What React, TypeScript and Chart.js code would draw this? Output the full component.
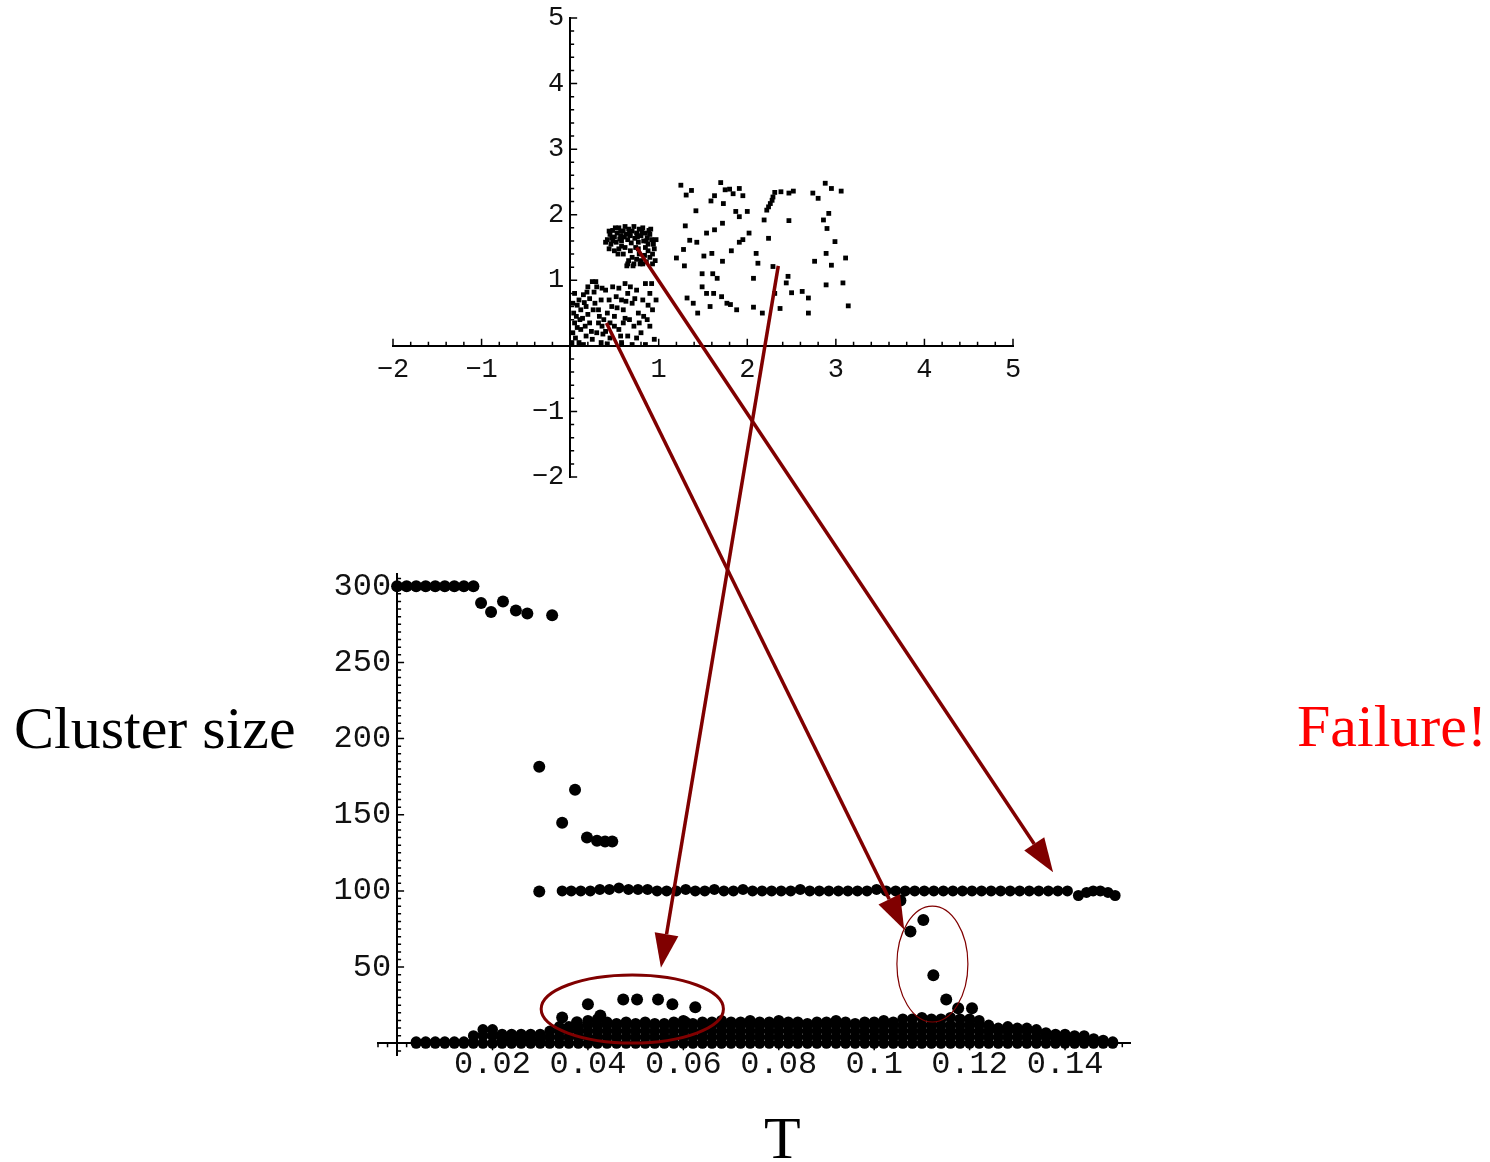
import React, { useEffect, useRef } from "react";
import { Chart, registerables } from "chart.js";
Chart.register(...registerables);

type P = [number, number];

// ---------- upper plot: 2-D point set ----------
const lowerCluster: P[] = [
  [0.02, 0.05], [0.03, 0.2], [0.05, 0.35], [0.04, 0.5], [0.08, 0.62], [0.06, 0.12], [0.1, 0.05], [0.12, 0.25],
  [0.14, 0.42], [0.1, 0.7], [0.15, 0.78], [0.18, 0.6], [0.2, 0.9], [0.22, 0.72], [0.25, 0.98], [0.27, 0.82],
  [0.3, 0.9], [0.28, 0.65], [0.32, 0.55], [0.35, 0.7], [0.33, 0.45], [0.38, 0.4], [0.36, 0.3], [0.4, 0.22],
  [0.42, 0.5], [0.45, 0.35], [0.47, 0.6], [0.5, 0.45], [0.52, 0.75], [0.55, 0.88], [0.58, 0.7], [0.6, 0.55],
  [0.62, 0.95], [0.65, 0.8], [0.67, 0.4], [0.7, 0.65], [0.72, 0.3], [0.75, 0.85], [0.77, 0.5], [0.8, 0.2],
  [0.82, 0.7], [0.85, 0.95], [0.87, 0.4], [0.9, 0.8], [0.93, 0.55], [0.95, 0.1], [0.18, 0.15], [0.22, 0.35],
  [0.25, 0.1], [0.3, 0.2], [0.15, 0.02], [0.35, 0.05], [0.45, 0.12], [0.55, 0.25], [0.58, 0.05], [0.65, 0.15],
  [0.7, 0.02], [0.75, 0.12], [0.85, 0.02], [0.9, 0.3], [0.08, 0.28], [0.12, 0.55], [0.2, 0.48], [0.4, 0.85],
  [0.48, 0.9], [0.6, 0.35], [0.68, 0.9], [0.92, 0.95], [0.05, 0.8], [0.03, 0.65], [0.26, 0.55], [0.44, 0.7],
  [0.53, 0.58], [0.63, 0.68], [0.78, 0.35], [0.88, 0.62], [0.11, 0.4], [0.17, 0.3], [0.37, 0.18], [0.5, 0.3],
  [0.42, 0.03], [0.62, 0.42], [0.73, 0.72], [0.97, 0.7], [0.83, 0.45], [0.57, 0.15], [0.24, 0.22], [0.32, 0.35],
  [0.19, 0.82], [0.29, 0.98], [0.36, 0.88], [0.16, 0.66], [0.07, 0.45],
];

const denseCluster: P[] = [
  [0.42, 1.62], [0.45, 1.7], [0.48, 1.76], [0.5, 1.66], [0.52, 1.58], [0.46, 1.55], [0.44, 1.48], [0.5, 1.45],
  [0.53, 1.72], [0.55, 1.8], [0.57, 1.68], [0.58, 1.6], [0.6, 1.75], [0.62, 1.82], [0.63, 1.7], [0.65, 1.62],
  [0.66, 1.78], [0.68, 1.68], [0.7, 1.75], [0.72, 1.82], [0.73, 1.64], [0.75, 1.72], [0.77, 1.58], [0.78, 1.78],
  [0.8, 1.68], [0.82, 1.8], [0.83, 1.6], [0.85, 1.72], [0.87, 1.65], [0.88, 1.55], [0.9, 1.7], [0.92, 1.62],
  [0.94, 1.55], [0.95, 1.48], [0.93, 1.4], [0.9, 1.35], [0.88, 1.45], [0.85, 1.5], [0.84, 1.38], [0.8, 1.3],
  [0.82, 1.25], [0.78, 1.4], [0.75, 1.32], [0.72, 1.25], [0.7, 1.35], [0.68, 1.45], [0.66, 1.3], [0.64, 1.22],
  [0.62, 1.5], [0.6, 1.4], [0.58, 1.52], [0.55, 1.48], [0.54, 1.4], [0.48, 1.6], [0.4, 1.58], [0.97, 1.62],
  [0.96, 1.3], [0.86, 1.28], [0.74, 1.5], [0.57, 1.75], [0.51, 1.8], [0.69, 1.57], [0.77, 1.48], [0.91, 1.78],
  [0.44, 1.75], [0.65, 1.25], [0.93, 1.25], [0.79, 1.25], [0.71, 1.22],
  [0.47, 1.65], [0.56, 1.63], [0.61, 1.66], [0.67, 1.72], [0.76, 1.66], [0.81, 1.74], [0.86, 1.6], [0.89, 1.76],
];

const scatterCluster: P[] = [
  [1.25, 2.45], [1.31, 2.3], [1.37, 2.37], [1.42, 2.06], [1.3, 1.83], [1.35, 1.61], [1.28, 1.47], [1.2, 1.34],
  [1.29, 1.22], [1.43, 1.58], [1.51, 1.37], [1.54, 1.72], [1.59, 2.21], [1.63, 2.29], [1.7, 2.49], [1.73, 2.17],
  [1.8, 2.39], [1.75, 2.38], [1.91, 2.4], [1.95, 2.29], [1.87, 2.05], [1.91, 1.97], [2.0, 2.05], [1.72, 1.87],
  [1.63, 1.77], [1.6, 1.41], [1.72, 1.29], [1.82, 1.45], [1.91, 1.58], [1.95, 1.62], [2.02, 1.72], [2.1, 1.41],
  [2.12, 1.26], [2.07, 1.03], [1.49, 1.1], [1.61, 1.1], [1.49, 0.9], [1.54, 0.8], [1.62, 0.8], [1.32, 0.73],
  [1.39, 0.65], [1.44, 0.5], [1.71, 0.75], [1.77, 0.65], [1.81, 0.63], [1.88, 0.55], [2.07, 0.59], [2.17, 0.5],
  [2.24, 1.64], [2.22, 2.07], [2.19, 1.92], [2.26, 2.17], [2.29, 2.27], [2.31, 2.34], [2.38, 2.35], [2.47, 2.33],
  [2.47, 1.91], [2.29, 1.21], [2.46, 1.06], [2.44, 0.96], [2.31, 0.8], [2.5, 0.81], [2.62, 0.83], [2.69, 0.73],
  [2.37, 0.57], [2.69, 0.5], [2.74, 2.33], [2.8, 2.25], [2.88, 2.48], [2.95, 2.4], [3.06, 2.36], [2.92, 2.02],
  [2.86, 1.92], [2.9, 1.79], [2.99, 1.59], [2.89, 1.41], [3.11, 1.34], [2.95, 1.23], [2.76, 1.29], [2.89, 0.93],
  [3.08, 0.96], [3.14, 0.61], [2.28, 2.22], [2.24, 2.12], [1.84, 2.32], [1.66, 1.03], [1.58, 0.6], [2.52, 2.36],
];

const topXTicks = [-2, -1, 1, 2, 3, 4, 5];
const topXLabels = ["\u22122", "\u22121", "1", "2", "3", "4", "5"];
const topYTicks = [-2, -1, 1, 2, 3, 4, 5];
const topYLabels = ["\u22122", "\u22121", "1", "2", "3", "4", "5"];

// ---------- lower plot: cluster size vs T ----------
const bottomXTicks = [0.02, 0.04, 0.06, 0.08, 0.1, 0.12, 0.14];
const bottomXLabels = ["0.02", "0.04", "0.06", "0.08", "0.1", "0.12", "0.14"];
const bottomYTicks = [50, 100, 150, 200, 250, 300];
const bottomYLabels = ["50", "100", "150", "200", "250", "300"];

const plateau: P[] = [
  [0, 300], [0.002, 300], [0.004, 300], [0.006, 300], [0.008, 300], [0.01, 300], [0.012, 300], [0.014, 300],
  [0.016, 300], [0.0176, 289], [0.0197, 283], [0.0222, 290], [0.0249, 284], [0.0273, 282], [0.0325, 281],
];

const transition: P[] = [
  [0.0298, 181.5], [0.0373, 166.4], [0.0346, 144.8], [0.0398, 135], [0.0419, 133], [0.0436, 132.4],
  [0.0451, 132.4], [0.0298, 99.6],
];

const hundredLine: P[] = [
  [0.0346, 100], [0.0365, 100], [0.0385, 100], [0.0405, 100], [0.0425, 101], [0.0445, 101], [0.0465, 102],
  [0.0485, 101], [0.0505, 101], [0.0525, 101], [0.0545, 100], [0.0565, 100], [0.0585, 100], [0.0605, 101],
  [0.0625, 100], [0.0645, 100], [0.0665, 101], [0.0685, 100], [0.0705, 100], [0.0725, 101], [0.0745, 100],
  [0.0765, 100], [0.0785, 100], [0.0805, 100], [0.0825, 100], [0.0845, 101], [0.0865, 100], [0.0885, 100],
  [0.0905, 100], [0.0925, 100], [0.0945, 100], [0.0965, 100], [0.0985, 100], [0.1005, 101], [0.1025, 100],
  [0.1045, 100], [0.1065, 100], [0.1085, 100], [0.1105, 100], [0.1125, 100], [0.1145, 100], [0.1165, 100],
  [0.1185, 100], [0.1205, 100], [0.1225, 100], [0.1245, 100], [0.1265, 100], [0.1285, 100], [0.1305, 100],
  [0.1325, 100], [0.1345, 100], [0.1365, 100], [0.1385, 100], [0.1405, 100], [0.1428, 97], [0.1445, 99],
  [0.1459, 100], [0.1474, 100], [0.149, 99], [0.1505, 97],
];

// each row: T, then the cluster sizes found at that T
const lowBandRows: number[][] = [
  [0.004, 0, 1], [0.006, 0, 1], [0.008, 0, 1], [0.01, 0, 1], [0.012, 0, 1], [0.014, 0, 1],
  [0.016, 0, 1, 5], [0.018, 0, 5, 9], [0.02, 0, 5, 9],
  [0.022, 0, 3, 6], [0.024, 0, 3, 6], [0.026, 0, 3, 6], [0.028, 0, 3, 6], [0.03, 0, 3, 6],
  [0.032, 0, 4, 8], [0.034, 0, 4, 8, 11], [0.036, 0, 4, 8, 11], [0.038, 0, 4, 8, 11],
  [0.04, 0, 4, 8, 12, 15], [0.042, 0, 4, 8, 12, 16], [0.044, 0, 4, 8, 12, 14], [0.046, 0, 4, 8, 12, 13],
  [0.048, 0, 4, 8, 12, 14], [0.05, 0, 4, 8, 12, 13], [0.052, 0, 4, 8, 12, 14], [0.054, 0, 4, 8, 12, 13],
  [0.056, 0, 4, 8, 12, 13], [0.058, 0, 4, 8, 12, 14], [0.06, 0, 4, 8, 12, 15], [0.062, 0, 4, 8, 12, 13],
  [0.064, 0, 4, 8, 12, 14], [0.066, 0, 4, 8, 12, 14], [0.068, 0, 4, 8, 12, 15], [0.07, 0, 4, 8, 12, 14],
  [0.072, 0, 4, 8, 12, 14], [0.074, 0, 4, 8, 12, 15], [0.076, 0, 4, 8, 12, 14], [0.078, 0, 4, 8, 12, 14],
  [0.08, 0, 4, 8, 12, 15], [0.082, 0, 4, 8, 12, 14], [0.084, 0, 4, 8, 12, 14], [0.086, 0, 4, 8, 12, 13],
  [0.088, 0, 4, 8, 12, 14], [0.09, 0, 4, 8, 12, 14], [0.092, 0, 4, 8, 12, 15], [0.094, 0, 4, 8, 12, 14],
  [0.096, 0, 4, 8, 12, 13], [0.098, 0, 4, 8, 12, 14], [0.1, 0, 4, 8, 12, 14], [0.102, 0, 4, 8, 12, 15],
  [0.104, 0, 4, 8, 12, 14], [0.106, 0, 4, 8, 12, 16], [0.108, 0, 4, 8, 12, 16], [0.11, 0, 4, 8, 12, 17],
  [0.112, 0, 4, 8, 12, 16], [0.114, 0, 4, 8, 12, 16], [0.116, 0, 4, 8, 12, 17], [0.118, 0, 4, 8, 12, 16],
  [0.12, 0, 4, 8, 12, 16], [0.122, 0, 4, 8, 12, 15], [0.124, 0, 4, 8, 12], [0.126, 0, 4, 8, 10],
  [0.128, 0, 4, 8, 11], [0.13, 0, 4, 8, 10], [0.132, 0, 4, 8, 10], [0.134, 0, 4, 8, 9], [0.136, 0, 4, 7],
  [0.138, 0, 3, 6], [0.14, 0, 3, 6], [0.142, 0, 3, 5], [0.144, 0, 3, 5], [0.146, 0, 2, 3], [0.148, 0, 2],
  [0.15, 0, 1],
];

const encircledPoints: P[] = [
  [0.04, 25.6], [0.0474, 28.8], [0.0503, 28.8], [0.0547, 28.8], [0.0577, 25.6], [0.0625, 23.6],
  [0.0346, 17], [0.0377, 13.8], [0.0426, 18.3], [0.0604, 13.8],
];

const failurePoints: P[] = [
  [0.1055, 93.7], [0.1076, 73.4], [0.1103, 81], [0.1124, 44.6], [0.1151, 28.8], [0.1176, 23], [0.1205, 23],
];

// annotations: arrows from upper-plot coordinates to lower-plot coordinates
const arrows: { from: P; to: P }[] = [
  { from: [0.41, 0.35], to: [0.1063, 74.5] },
  { from: [0.75, 1.5], to: [0.1375, 112.3] },
  { from: [2.35, 1.22], to: [0.0553, 49.6] },
];
// ellipses in lower-plot coordinates: centre T, centre size, half-width in T, half-height in size
const ellipses = [
  { t: 0.0493, s: 22.5, rt: 0.0191, rs: 22.3, width: 3 },
  { t: 0.1122, s: 52, rt: 0.00744, rs: 38, width: 1.2 },
];

const RED = "#800000";
const TOP_BOX = { left: 360, top: 0, width: 680, height: 510 };
const BOT_BOX = { left: 300, top: 540, width: 860, height: 580 };
const PAGE_W = 1490;
const PAGE_H = 1162;

function steps(a: number, b: number, s: number): number[] {
  const out: number[] = [];
  const n = Math.round((b - a) / s);
  for (let i = 0; i <= n; i++) out.push(+(a + i * s).toFixed(6));
  return out;
}

function axisDecor(o: {
  xMinor: number[]; xMajor: number[]; yMinor: number[]; yMajor: number[];
  xDir: number; yDir: number; minor: number; major: number;
  yTicks: number[]; yLabels: string[]; font: string; gap: number;
}) {
  return {
    id: "axisDecor",
    beforeDatasetsDraw(chart: any) {
      const { ctx, scales } = chart;
      const xs = scales.x;
      const ys = scales.y;
      const ax = xs.getPixelForValue(0);
      const ay = ys.getPixelForValue(0);
      ctx.save();
      ctx.strokeStyle = "#000";
      ctx.lineWidth = 1.5;
      ctx.beginPath();
      for (const v of o.xMinor) {
        const p = xs.getPixelForValue(v);
        ctx.moveTo(p, ay);
        ctx.lineTo(p, ay + o.xDir * o.minor);
      }
      for (const v of o.xMajor) {
        const p = xs.getPixelForValue(v);
        ctx.moveTo(p, ay);
        ctx.lineTo(p, ay + o.xDir * o.major);
      }
      for (const v of o.yMinor) {
        const p = ys.getPixelForValue(v);
        ctx.moveTo(ax, p);
        ctx.lineTo(ax + o.yDir * o.minor, p);
      }
      for (const v of o.yMajor) {
        const p = ys.getPixelForValue(v);
        ctx.moveTo(ax, p);
        ctx.lineTo(ax + o.yDir * o.major, p);
      }
      ctx.stroke();
      ctx.fillStyle = "#111";
      ctx.font = o.font;
      ctx.textAlign = "right";
      ctx.textBaseline = "middle";
      o.yTicks.forEach((v, i) => ctx.fillText(o.yLabels[i], ax - o.gap, ys.getPixelForValue(v)));
      ctx.restore();
    },
  };
}

const ellipsePlugin = {
  id: "ellipses",
  afterDatasetsDraw(chart: any) {
    const { ctx, scales } = chart;
    const xs = scales.x;
    const ys = scales.y;
    ctx.save();
    ctx.strokeStyle = RED;
    for (const e of ellipses) {
      const cx = xs.getPixelForValue(e.t);
      const cy = ys.getPixelForValue(e.s);
      const rx = Math.abs(xs.getPixelForValue(e.t + e.rt) - cx);
      const ry = Math.abs(ys.getPixelForValue(e.s + e.rs) - cy);
      ctx.beginPath();
      ctx.ellipse(cx, cy, rx, ry, 0, 0, Math.PI * 2);
      ctx.lineWidth = e.width;
      ctx.stroke();
    }
    ctx.restore();
  },
};

function drawArrow(ctx: CanvasRenderingContext2D, x1: number, y1: number, x2: number, y2: number) {
  const ang = Math.atan2(y2 - y1, x2 - x1);
  const headLen = 34;
  const headHalf = 12;
  const bx = x2 - headLen * Math.cos(ang);
  const by = y2 - headLen * Math.sin(ang);
  ctx.strokeStyle = RED;
  ctx.fillStyle = RED;
  ctx.lineWidth = 3.5;
  ctx.lineCap = "butt";
  ctx.beginPath();
  ctx.moveTo(x1, y1);
  ctx.lineTo(bx, by);
  ctx.stroke();
  ctx.beginPath();
  ctx.moveTo(x2, y2);
  ctx.lineTo(bx + headHalf * Math.sin(ang), by - headHalf * Math.cos(ang));
  ctx.lineTo(bx - headHalf * Math.sin(ang), by + headHalf * Math.cos(ang));
  ctx.closePath();
  ctx.fill();
}

const toXY = (p: P) => ({ x: p[0], y: p[1] });

export default function App() {
  const topRef = useRef<HTMLCanvasElement>(null);
  const botRef = useRef<HTMLCanvasElement>(null);
  const ovRef = useRef<HTMLCanvasElement>(null);

  useEffect(() => {
    const topPts = { pointStyle: "rect" as const, radius: 3.4, backgroundColor: "#000", borderWidth: 0, showLine: false };
    const top = new Chart(topRef.current!, {
      type: "scatter",
      data: {
        datasets: [
          { data: lowerCluster.map(toXY), ...topPts },
          { data: denseCluster.map(toXY), ...topPts },
          { data: scatterCluster.map(toXY), ...topPts },
        ],
      },
      options: {
        responsive: false,
        animation: false,
        devicePixelRatio: 1,
        events: [],
        layout: { padding: { left: 33, right: 27, top: 18, bottom: 33 } },
        plugins: { legend: { display: false }, tooltip: { enabled: false } },
        scales: {
          x: {
            type: "linear", min: -2, max: 5, position: { y: 0 } as any,
            afterBuildTicks: (s: any) => { s.ticks = topXTicks.map((v) => ({ value: v })); },
            ticks: {
              callback: (_v: any, i: number) => topXLabels[i],
              font: { family: "'Liberation Mono', monospace", size: 27 },
              color: "#111", padding: 8, maxRotation: 0, minRotation: 0, autoSkip: false,
            },
            grid: { display: true, drawOnChartArea: false, drawTicks: false },
            border: { display: true, color: "#000", width: 2 },
          },
          y: {
            type: "linear", min: -2, max: 5, position: { x: 0 } as any,
            ticks: { display: false },
            grid: { display: true, drawOnChartArea: false, drawTicks: false },
            border: { display: true, color: "#000", width: 2 },
          },
        },
      },
      plugins: [
        axisDecor({
          xMinor: steps(-2, 5, 0.2), xMajor: steps(-2, 5, 1), yMinor: steps(-2, 5, 0.2), yMajor: steps(-2, 5, 1),
          xDir: -1, yDir: 1, minor: 4, major: 7,
          yTicks: topYTicks, yLabels: topYLabels, font: "27px 'Liberation Mono', monospace", gap: 6,
        }),
      ],
    });

    const botPts = { pointStyle: "circle" as const, radius: 6, backgroundColor: "#000", borderWidth: 0, showLine: false };
    const lowBand: { x: number; y: number }[] = [];
    lowBandRows.forEach((row) => row.slice(1).forEach((s) => lowBand.push({ x: row[0], y: s })));
    const bot = new Chart(botRef.current!, {
      type: "scatter",
      data: {
        datasets: [
          { data: plateau.map(toXY), ...botPts },
          { data: transition.map(toXY), ...botPts },
          { data: hundredLine.map(toXY), ...botPts, radius: 5.5 },
          { data: lowBand, ...botPts, radius: 5.5 },
          { data: encircledPoints.map(toXY), ...botPts },
          { data: failurePoints.map(toXY), ...botPts },
        ],
      },
      options: {
        responsive: false,
        animation: false,
        devicePixelRatio: 1,
        events: [],
        layout: { padding: { left: 78, right: 29.6, top: 34, bottom: 64.5 } },
        plugins: { legend: { display: false }, tooltip: { enabled: false } },
        scales: {
          x: {
            type: "linear", min: -0.004, max: 0.1537, position: { y: 0 } as any,
            afterBuildTicks: (s: any) => { s.ticks = bottomXTicks.map((v) => ({ value: v })); },
            ticks: {
              callback: (_v: any, i: number) => bottomXLabels[i],
              font: { family: "'Liberation Mono', monospace", size: 32 },
              color: "#111", padding: 2, maxRotation: 0, minRotation: 0, autoSkip: false,
            },
            grid: { display: true, drawOnChartArea: false, drawTicks: false },
            border: { display: true, color: "#000", width: 2 },
          },
          y: {
            type: "linear", min: -8, max: 308, position: { x: 0 } as any,
            ticks: { display: false },
            grid: { display: true, drawOnChartArea: false, drawTicks: false },
            border: { display: true, color: "#000", width: 2 },
          },
        },
      },
      plugins: [
        axisDecor({
          xMinor: steps(-0.004, 0.152, 0.002), xMajor: steps(0, 0.14, 0.02), yMinor: steps(-5, 305, 5), yMajor: steps(0, 300, 50),
          xDir: 1, yDir: 1, minor: 4, major: 7,
          yTicks: bottomYTicks, yLabels: bottomYLabels, font: "32px 'Liberation Mono', monospace", gap: 6,
        }),
        ellipsePlugin,
      ],
    });

    const ctx = ovRef.current!.getContext("2d")!;
    ctx.clearRect(0, 0, PAGE_W, PAGE_H);
    for (const a of arrows) {
      const x1 = TOP_BOX.left + top.scales.x.getPixelForValue(a.from[0]);
      const y1 = TOP_BOX.top + top.scales.y.getPixelForValue(a.from[1]);
      const x2 = BOT_BOX.left + bot.scales.x.getPixelForValue(a.to[0]);
      const y2 = BOT_BOX.top + bot.scales.y.getPixelForValue(a.to[1]);
      drawArrow(ctx, x1, y1, x2, y2);
    }

    return () => {
      top.destroy();
      bot.destroy();
    };
  }, []);

  const serif = "'Liberation Serif', 'Times New Roman', serif";
  return (
    <div style={{ position: "absolute", left: 0, top: 0, width: PAGE_W, height: PAGE_H, background: "#fff", overflow: "hidden" }}>
      <canvas ref={topRef} width={TOP_BOX.width} height={TOP_BOX.height}
        style={{ position: "absolute", left: TOP_BOX.left, top: TOP_BOX.top, width: TOP_BOX.width, height: TOP_BOX.height }} />
      <canvas ref={botRef} width={BOT_BOX.width} height={BOT_BOX.height}
        style={{ position: "absolute", left: BOT_BOX.left, top: BOT_BOX.top, width: BOT_BOX.width, height: BOT_BOX.height }} />
      <canvas ref={ovRef} width={PAGE_W} height={PAGE_H}
        style={{ position: "absolute", left: 0, top: 0, width: PAGE_W, height: PAGE_H, pointerEvents: "none" }} />
      <div style={{ position: "absolute", left: 14, top: 698, font: `60px ${serif}`, lineHeight: "60px", whiteSpace: "nowrap", color: "#000" }}>
        Cluster size
      </div>
      <div style={{ position: "absolute", left: 1297, top: 696, font: `60px ${serif}`, lineHeight: "60px", whiteSpace: "nowrap", color: "#ff0000" }}>
        Failure!
      </div>
      <div style={{ position: "absolute", left: 764, top: 1108, font: `60px ${serif}`, lineHeight: "60px", whiteSpace: "nowrap", color: "#000" }}>
        T
      </div>
    </div>
  );
}
